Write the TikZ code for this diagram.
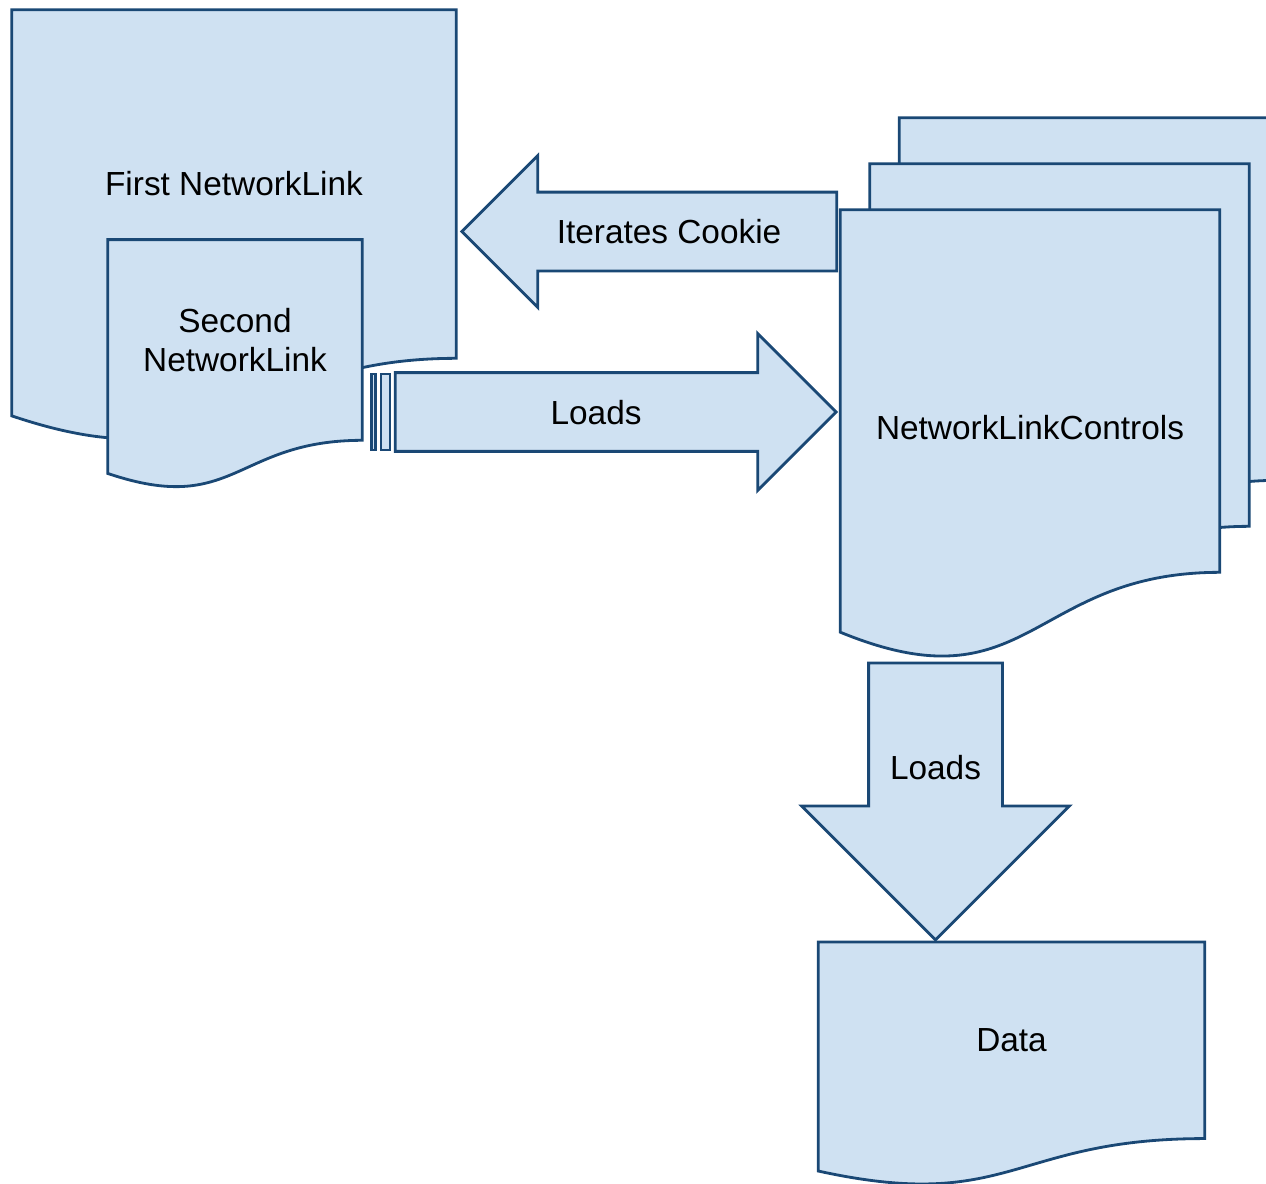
\documentclass[tikz,border=0pt]{standalone}
\usepackage{fontspec}
\setmainfont{Liberation Sans}
\usetikzlibrary{positioning,calc,shapes.arrows}

\definecolor{docblue}{RGB}{207,225,242}
\definecolor{docedge}{RGB}{26,72,117}

\tikzset{
  outline/.style={fill=docblue, draw=docedge, line width=1.6pt, line join=miter},
  % text area of a document, the wavy bottom is added below it
  doc/.style={rectangle, inner sep=0pt, align=center, font=\fontsize{19}{22}\selectfont,
    append after command={\pgfextra{
      \draw[outline] (\tikzlastnode.north west) -- (\tikzlastnode.north east) -- (\tikzlastnode.south east)
        .. controls (\tikzlastnode.south) and ($(\tikzlastnode.north)!1.38!(\tikzlastnode.south)$)
        .. ($(\tikzlastnode.north west)!1.165!(\tikzlastnode.south west)$) -- cycle;}}},
  blockarrow/.style={outline, single arrow, single arrow tip angle=90, single arrow head indent=0pt,
    inner sep=0pt, font=\fontsize{19}{22}\selectfont},
  % shaft of a horizontal arrow is set by the text box
  hshaft/.style={text height=1cm, text depth=0.52cm},
  stripe/.style={outline, rectangle, inner sep=0pt, minimum height=1.52cm}
}

\begin{document}
\begin{tikzpicture}[x=0.02cm, y=-0.02cm]
    \useasboundingbox (0,0) rectangle (1266,1183);

    \node[doc, minimum width=8.88cm, minimum height=6.96cm] (first) at (234,184) {First NetworkLink};
    \node[doc, minimum width=5.08cm, minimum height=4cm] (second) at ([xshift=0.02cm, yshift=-3.12cm]first.center) {Second\\NetworkLink};

    \node[doc, minimum width=7.58cm, minimum height=7.24cm] (nlcback) at (1089,299) {};
    \node[doc, minimum width=7.58cm, minimum height=7.24cm] (nlcmid) at ([shift={(-29.5,46)}]nlcback.center) {};
    \node[doc, minimum width=7.58cm, minimum height=7.24cm, text height=1.93cm] (nlc) at ([shift={(-29.5,46)}]nlcmid.center) {NetworkLinkControls};

    \node[doc, minimum width=7.72cm, minimum height=3.92cm] (data) at ([xshift=-0.37cm, yshift=-9.36cm]nlc.south) {Data};

    \node[blockarrow, hshaft, shape border rotate=180, minimum height=7.5cm, single arrow head extend=0.73cm, anchor=tail] (cookie) at ([xshift=-0.04cm, yshift=3.19cm]nlc.west) {Iterates Cookie};
    \node[blockarrow, hshaft, minimum height=8.82cm, single arrow head extend=0.78cm, anchor=tip] (loads) at ([xshift=-0.04cm, yshift=-0.42cm]nlc.west) {Loads};
    \node[stripe, minimum width=0.18cm, anchor=east] (bartwo) at ([xshift=-0.05cm]loads.tail) {};
    \node[stripe, minimum width=0.08cm, anchor=east] (barone) at ([xshift=-0.05cm]bartwo.west) {};

    \node[blockarrow, align=center, text width=2.62cm, shape border rotate=270, minimum height=5.54cm, single arrow head extend=1.34cm, anchor=tip] (loadsdata) at ([xshift=-1.52cm]data.north) {Loads};
\end{tikzpicture}
\end{document}
